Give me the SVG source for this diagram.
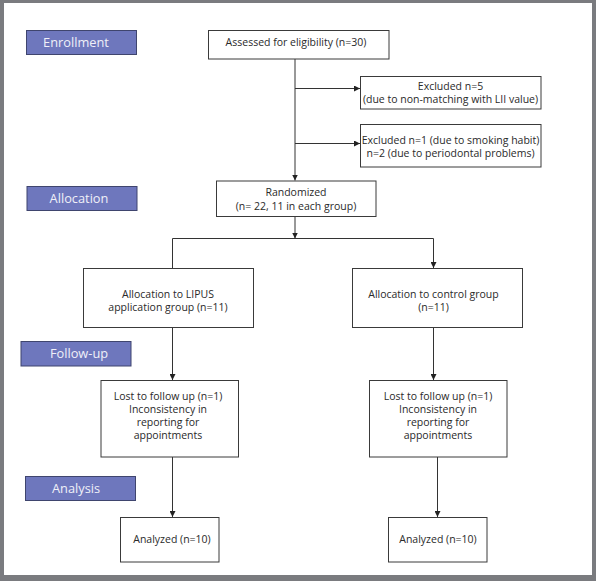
<svg xmlns="http://www.w3.org/2000/svg" width="596" height="581" viewBox="0 0 596 581">
<style>
.box{fill:#fff;stroke:#3a3a3a;stroke-width:1}
.lbl{fill:#6e77bd;stroke:#3f456e;stroke-width:1}
.t{font-family:"Open Sans","DejaVu Sans",sans-serif;font-size:10.5px;fill:#2a2a2a;text-anchor:middle}
.lt{font-family:"Open Sans","DejaVu Sans",sans-serif;font-size:12.8px;fill:#f0f0f8;text-anchor:middle}
.c{fill:none;stroke:#333;stroke-width:1}
</style>
<defs>
<marker id="ah" viewBox="0 0 6 6" refX="6" refY="3" markerWidth="6" markerHeight="6" orient="auto" markerUnits="userSpaceOnUse">
<path d="M0,0 L6,3 L0,6 z" fill="#222"/>
</marker>
</defs>
<rect x="0" y="0" width="596" height="581" fill="#7a7b7f"/>
<rect x="4" y="3" width="588" height="572" fill="#fff"/>
<g id="connectors">
<path class="c" d="M295,59 V180.5" marker-end="url(#ah)"/>
<path class="c" d="M295,88.5 H360" marker-end="url(#ah)"/>
<path class="c" d="M295,143.5 H360" marker-end="url(#ah)"/>
<path class="c" d="M295,216.5 V238.5" marker-end="url(#ah)"/>
<path class="c" d="M172.5,268 V238.5 H433.5 V268" marker-end="url(#ah)"/>
<path class="c" d="M172.5,327.5 V380" marker-end="url(#ah)"/>
<path class="c" d="M433.5,327.5 V380" marker-end="url(#ah)"/>
<path class="c" d="M172.5,457 V517" marker-end="url(#ah)"/>
<path class="c" d="M437.5,457 V517" marker-end="url(#ah)"/>
</g>
<g id="enrollment"><rect class="lbl" x="26.5" y="30.5" width="110" height="24"/><text class="lt" x="76" y="47">Enrollment</text></g>
<g id="allocation"><rect class="lbl" x="27" y="186.5" width="110" height="24"/><text class="lt" x="79" y="203">Allocation</text></g>
<g id="followup"><rect class="lbl" x="21" y="341.5" width="110" height="24.5"/><text class="lt" x="79" y="358">Follow-up</text></g>
<g id="analysis"><rect class="lbl" x="25.5" y="476.5" width="110" height="24"/><text class="lt" x="76" y="493">Analysis</text></g>
<g id="assessed"><rect class="box" x="208.5" y="30.5" width="180.5" height="28.5"/><text class="t" x="296" y="45.5">Assessed for eligibility (n=30)</text></g>
<g id="excluded1"><rect class="box" x="360.5" y="76.5" width="180.5" height="32.5"/><text class="t" x="450.5" y="89.5">Excluded n=5</text><text class="t" x="450.5" y="102.5">(due to non-matching with LII value)</text></g>
<g id="excluded2"><rect class="box" x="360.5" y="124.5" width="180.5" height="42.5"/><text class="t" x="450.5" y="143.5">Excluded n=1 (due to smoking habit)</text><text class="t" x="450.5" y="156.5">n=2 (due to periodontal problems)</text></g>
<g id="randomized"><rect class="box" x="216.5" y="181" width="159.5" height="35.5"/><text class="t" x="296" y="196">Randomized</text><text class="t" x="296" y="209.5">(n= 22, 11 in each group)</text></g>
<g id="lipus"><rect class="box" x="83.5" y="268.5" width="170" height="59"/><text class="t" x="168" y="297.5">Allocation to LIPUS</text><text class="t" x="168" y="311">application group (n=11)</text></g>
<g id="control"><rect class="box" x="352.5" y="268.5" width="170" height="59"/><text class="t" x="433.5" y="297.5">Allocation to control group</text><text class="t" x="433.5" y="311">(n=11)</text></g>
<g id="lost1"><rect class="box" x="101" y="380.5" width="137.5" height="76.5"/><text class="t" x="168" y="399.5">Lost to follow up (n=1)</text><text class="t" x="168" y="412.5">Inconsistency in</text><text class="t" x="168" y="425.5">reporting for</text><text class="t" x="168" y="438.5">appointments</text></g>
<g id="lost2"><rect class="box" x="369.5" y="380.5" width="137.5" height="76.5"/><text class="t" x="438" y="399.5">Lost to follow up (n=1)</text><text class="t" x="438" y="412.5">Inconsistency in</text><text class="t" x="438" y="425.5">reporting for</text><text class="t" x="438" y="438.5">appointments</text></g>
<g id="analyzed1"><rect class="box" x="120.5" y="517.5" width="98.5" height="44.5"/><text class="t" x="172" y="542.5">Analyzed (n=10)</text></g>
<g id="analyzed2"><rect class="box" x="388.5" y="517.5" width="98.5" height="44.5"/><text class="t" x="438" y="542.5">Analyzed (n=10)</text></g>
</svg>
